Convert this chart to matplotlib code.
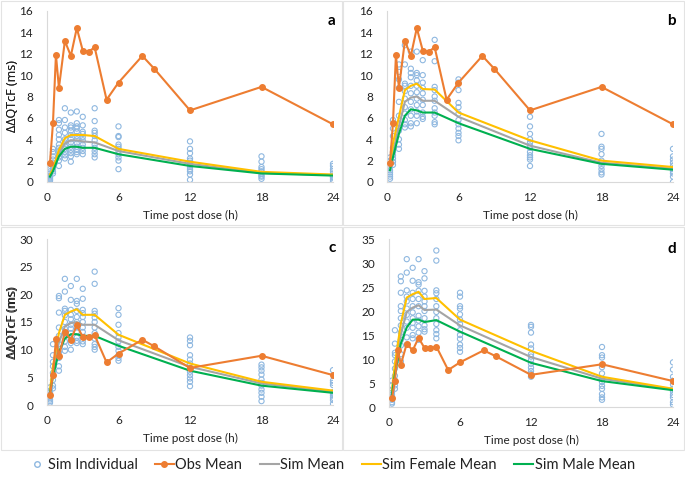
import numpy as np
import matplotlib
matplotlib.use('Agg')
from matplotlib import pyplot as plt
from matplotlib.patches import Rectangle
from matplotlib.lines import Line2D

plt.rcParams['font.family'] = ['Lato', 'DejaVu Sans']

# observed mean (same in every panel)
obs_t = [0.25, 0.5, 0.75, 1, 1.5, 2, 2.5, 3, 3.5, 4, 5, 6, 8, 9, 12, 18, 24]
obs_v = [1.8, 5.5, 11.9, 8.8, 13.2, 11.8, 14.4, 12.3, 12.2, 12.6, 7.7, 9.3, 11.8, 10.6, 6.7, 8.9, 5.4]

sim_t = [0.25, 0.5, 1, 1.5, 2, 2.5, 3, 4, 6, 12, 18, 24]

female_a = [0.7, 1.2, 3.0, 4.1, 4.4, 4.4, 4.4, 4.3, 3.1, 1.9, 0.95, 0.7]
mean_a = [0.6, 1.1, 2.7, 3.6, 3.9, 3.9, 3.8, 3.7, 2.9, 1.7, 0.85, 0.65]
male_a = [0.5, 1.0, 2.4, 3.1, 3.3, 3.3, 3.2, 3.2, 2.6, 1.5, 0.8, 0.6]

female_b = [1.7, 3.6, 6.1, 8.6, 9.0, 9.2, 8.7, 8.65, 6.5, 3.9, 2.0, 1.4]
mean_b = [1.4, 2.8, 5.2, 7.5, 7.9, 8.0, 7.6, 7.6, 6.1, 3.4, 1.8, 1.25]
male_b = [1.1, 2.3, 4.5, 6.2, 6.8, 6.7, 6.5, 6.5, 5.5, 3.1, 1.7, 1.15]

female_c = [2.7, 7.0, 13.0, 16.3, 16.9, 17.3, 16.3, 16.3, 12.7, 7.5, 4.2, 2.6]
mean_c = [2.4, 6.0, 11.3, 14.2, 14.8, 15.0, 14.5, 14.5, 11.7, 6.9, 3.9, 2.4]
male_c = [2.1, 5.1, 9.6, 12.0, 12.8, 12.8, 12.5, 12.5, 10.7, 6.2, 3.5, 2.2]

female_d = [3.5, 9.0, 17.4, 22.8, 23.5, 24.0, 22.5, 22.7, 18.2, 11.7, 6.3, 3.8]
mean_d = [3.0, 7.8, 15.2, 19.8, 20.7, 21.2, 20.2, 20.3, 17.0, 10.4, 5.9, 3.7]
male_d = [2.6, 6.8, 13.2, 16.6, 18.2, 18.2, 17.7, 18.1, 15.7, 9.2, 5.4, 3.5]

# simulated individuals, one list per time in sim_t
ind_a = [
    [0.1, 0.2, 0.3, 0.4, 0.5, 0.6, 0.8, 1.0, 1.2],
    [0.8, 1.0, 1.2, 1.5, 1.8, 2.1, 2.4, 2.8, 3.1],
    [1.5, 2.0, 2.3, 2.6, 2.9, 3.2, 3.5, 4.0, 4.4, 4.9, 5.5, 5.8],
    [2.2, 2.5, 2.8, 3.1, 3.4, 3.7, 4.0, 4.6, 5.1, 5.8, 6.9],
    [1.9, 2.4, 2.7, 3.0, 3.3, 3.7, 4.0, 4.4, 4.8, 5.1, 5.3, 6.5],
    [2.6, 2.8, 3.0, 3.3, 3.6, 4.0, 4.3, 4.7, 5.0, 5.2, 5.5, 6.6],
    [2.6, 2.9, 3.2, 3.5, 3.9, 4.2, 4.5, 4.7, 5.3, 6.1],
    [2.3, 2.6, 2.9, 3.2, 3.5, 3.9, 4.3, 4.6, 4.8, 5.7, 6.9],
    [1.2, 2.0, 2.3, 2.6, 2.9, 3.1, 3.3, 3.5, 4.2, 4.3, 5.2],
    [0.2, 0.7, 1.0, 1.2, 1.4, 1.6, 1.8, 2.0, 2.2, 2.7, 3.1, 3.8],
    [0.3, 0.5, 0.6, 0.8, 1.0, 1.2, 1.4, 1.9, 2.4],
    [0.0, 0.2, 0.4, 0.5, 0.6, 0.8, 1.0, 1.2, 1.5, 1.7],
]
ind_b = [
    [0.3, 0.5, 0.7, 0.9, 1.1, 1.4, 1.7, 2.0, 2.3],
    [1.6, 1.9, 2.2, 2.5, 2.8, 3.2, 4.3, 5.0, 5.8],
    [3.1, 3.5, 4.0, 4.8, 5.5, 6.2, 7.5, 8.8, 9.6, 10.3, 11.0],
    [5.1, 5.4, 5.8, 6.4, 7.0, 7.8, 8.5, 9.0, 9.2, 11.0, 12.8],
    [5.2, 5.5, 6.2, 6.8, 7.5, 8.3, 9.0, 9.8, 10.2, 10.6, 12.2],
    [5.5, 6.2, 6.6, 7.2, 7.8, 8.4, 9.0, 9.5, 10.0, 10.2, 12.2],
    [5.9, 6.1, 6.5, 7.2, 7.7, 8.3, 8.8, 9.3, 10.0, 11.4],
    [5.4, 5.6, 6.2, 6.5, 6.9, 7.6, 8.0, 8.6, 8.9, 11.3, 13.3],
    [3.9, 4.3, 4.6, 5.0, 5.4, 5.8, 6.4, 7.0, 7.4, 8.6, 9.3, 9.6],
    [1.5, 2.1, 2.3, 2.5, 2.8, 3.2, 3.4, 3.7, 4.0, 4.5, 5.2, 6.1],
    [0.7, 0.9, 1.2, 1.5, 1.8, 2.0, 2.6, 3.1, 3.3, 4.5],
    [0.0, 0.5, 0.8, 1.0, 1.2, 1.5, 1.8, 2.1, 2.4, 3.1],
]
ind_c = [
    [0.4, 0.7, 1.0, 1.4, 1.8, 2.2, 2.6, 3.2],
    [3.0, 3.5, 4.5, 5.8, 7.0, 7.8, 9.0, 11.0],
    [6.2, 7.0, 8.5, 9.5, 11.0, 12.5, 14.0, 16.7, 19.3, 19.7],
    [9.8, 10.5, 11.5, 12.8, 13.8, 15.0, 16.2, 17.0, 17.4, 20.5, 22.8],
    [10.0, 11.2, 12.0, 13.0, 13.8, 14.5, 15.5, 16.3, 17.2, 19.0, 21.5],
    [11.2, 11.6, 12.2, 13.2, 14.0, 15.0, 15.9, 17.0, 18.3, 18.8, 22.8],
    [11.0, 11.5, 12.3, 13.2, 14.0, 15.0, 15.9, 16.6, 17.2, 19.2, 21.0],
    [10.0, 10.5, 11.0, 12.0, 13.0, 14.0, 15.0, 15.8, 16.5, 17.0, 21.9, 24.1],
    [8.0, 8.5, 9.0, 9.8, 10.5, 11.5, 12.2, 13.0, 14.5, 16.3, 17.5],
    [3.4, 4.2, 4.8, 5.4, 6.0, 6.7, 7.5, 8.2, 9.0, 10.8, 11.6, 12.2],
    [0.7, 1.5, 2.2, 2.8, 3.5, 4.0, 4.6, 5.5, 6.2, 6.8, 7.3],
    [0.2, 0.9, 1.3, 1.7, 2.0, 2.3, 3.6, 4.0, 4.4, 6.3],
]
ind_d = [
    [0.7, 1.0, 1.5, 2.0, 2.5, 3.0, 3.5, 4.5, 5.5],
    [3.8, 4.5, 5.5, 6.5, 8.0, 9.5, 10.8, 11.3, 13.2, 16.0],
    [9.5, 11.0, 12.8, 14.0, 15.5, 17.0, 18.5, 20.0, 21.0, 23.8, 26.2, 27.2],
    [13.0, 14.5, 16.5, 17.8, 19.2, 20.5, 22.0, 23.0, 24.3, 28.0, 30.8],
    [14.3, 15.0, 16.5, 17.5, 18.5, 19.7, 21.0, 22.5, 23.8, 26.3, 29.0],
    [14.0, 15.5, 16.8, 18.0, 19.0, 21.0, 22.5, 24.2, 25.5, 26.0, 30.8],
    [15.7, 16.2, 17.0, 18.5, 20.0, 21.0, 22.0, 23.0, 24.2, 26.8, 28.3],
    [14.3, 15.2, 16.0, 17.3, 18.5, 19.8, 21.0, 22.5, 23.7, 24.3, 30.5, 32.6],
    [11.5, 12.3, 13.0, 14.2, 15.0, 16.0, 17.3, 18.2, 19.3, 20.5, 21.0, 23.0, 23.8],
    [6.3, 6.9, 7.5, 8.2, 9.0, 9.8, 10.5, 11.0, 12.2, 13.0, 15.5, 16.7, 17.1],
    [1.5, 2.0, 2.7, 3.8, 4.4, 5.2, 5.8, 7.0, 8.3, 10.3, 10.8, 12.5],
    [0.5, 1.0, 2.0, 2.5, 3.2, 3.8, 4.7, 5.5, 6.3, 7.8, 9.3],
]

letters = ['a', 'b', 'c', 'd']
ymaxes = [16, 16, 30, 35]
ysteps = [2, 2, 5, 5]
females = [female_a, female_b, female_c, female_d]
means = [mean_a, mean_b, mean_c, mean_d]
males = [male_a, male_b, male_c, male_d]
inds = [ind_a, ind_b, ind_c, ind_d]

c_ind = '#8fb8e0'
c_obs = '#ED7D31'
c_mean = '#A5A5A5'
c_fem = '#FFC000'
c_male = '#00B050'
grid_c = '#d9d9d9'

W, H = 685, 482
fig = plt.figure(figsize=(6.85, 4.82), dpi=100)

# axes rectangles in pixels: left, top(y max), right, bottom(y=0)
boxes = [(47, 11, 333, 182), (387, 11, 673, 182),
         (47, 239, 333, 405), (389, 239, 673, 407)]
# panel frames in pixels
frames = [(1, 1, 342, 225), (343, 1, 684, 225),
          (1, 227, 342, 450), (343, 227, 684, 450)]

for x0, y0, x1, y1 in frames:
    fig.patches.append(Rectangle((x0 / W, 1 - y1 / H), (x1 - x0) / W, (y1 - y0) / H,
                                 transform=fig.transFigure, fill=False,
                                 edgecolor='#e3e3e3', lw=0.8))

for i in range(4):
    l, t, r, b = boxes[i]
    ax = fig.add_axes([l / W, 1 - b / H, (r - l) / W, (b - t) / H])
    xs = np.concatenate([[tt] * len(v) for tt, v in zip(sim_t, inds[i])])
    ys = np.concatenate(inds[i])
    ax.scatter(xs, ys, s=14, facecolors='none', edgecolors=c_ind, linewidths=0.8, zorder=2)
    ax.plot(sim_t, means[i], color=c_mean, lw=1.5, zorder=3)
    ax.plot(sim_t, females[i], color=c_fem, lw=1.5, zorder=3)
    ax.plot(sim_t, males[i], color=c_male, lw=1.5, zorder=3)
    ax.plot(obs_t, obs_v, color=c_obs, lw=1.5, marker='o', ms=4, zorder=4)
    ax.set_xlim(0, 24)
    ax.set_ylim(0, ymaxes[i])
    ax.set_xticks([0, 6, 12, 18, 24])
    ax.set_yticks(np.arange(0, ymaxes[i] + 0.1, ysteps[i]))
    ax.tick_params(length=0, labelsize=8.5, colors='#222222')
    ax.tick_params(axis='y', pad=10)
    ax.tick_params(axis='x', pad=7)
    for s in ['top', 'right']:
        ax.spines[s].set_visible(False)
    for s in ['left', 'bottom']:
        ax.spines[s].set_color(grid_c)
        ax.spines[s].set_linewidth(0.8)
    ax.set_xlabel('Time post dose (h)', fontsize=8.5, color='#222222', labelpad=5)
    ax.set_ylabel('ΔΔQTcF (ms)', fontsize=9, color='#222222',
                  family=['Open Sans', 'DejaVu Sans'])
    ax.yaxis.set_label_coords(-(l - 19) / (r - l), 0.5)
    ax.text(1.01, 0.985, letters[i], transform=ax.transAxes, ha='right', va='top',
            fontsize=11, fontweight='bold')

handles = [
    Line2D([], [], ls='none', marker='o', ms=4, mfc='none', mec=c_ind, mew=1.0),
    Line2D([], [], color=c_obs, lw=1.5, marker='o', ms=4),
    Line2D([], [], color=c_mean, lw=1.5),
    Line2D([], [], color=c_fem, lw=1.5),
    Line2D([], [], color=c_male, lw=1.5),
]
labels = ['Sim Individual', 'Obs Mean', 'Sim Mean', 'Sim Female Mean', 'Sim Male Mean']
fig.legend(handles, labels, loc='center', bbox_to_anchor=(331 / W, 1 - 465 / H), ncol=5,
           frameon=False, fontsize=10.5, handlelength=1.3, handletextpad=0.1,
           columnspacing=1.2, labelcolor='#222222')

fig.savefig('out.png', dpi=100)
